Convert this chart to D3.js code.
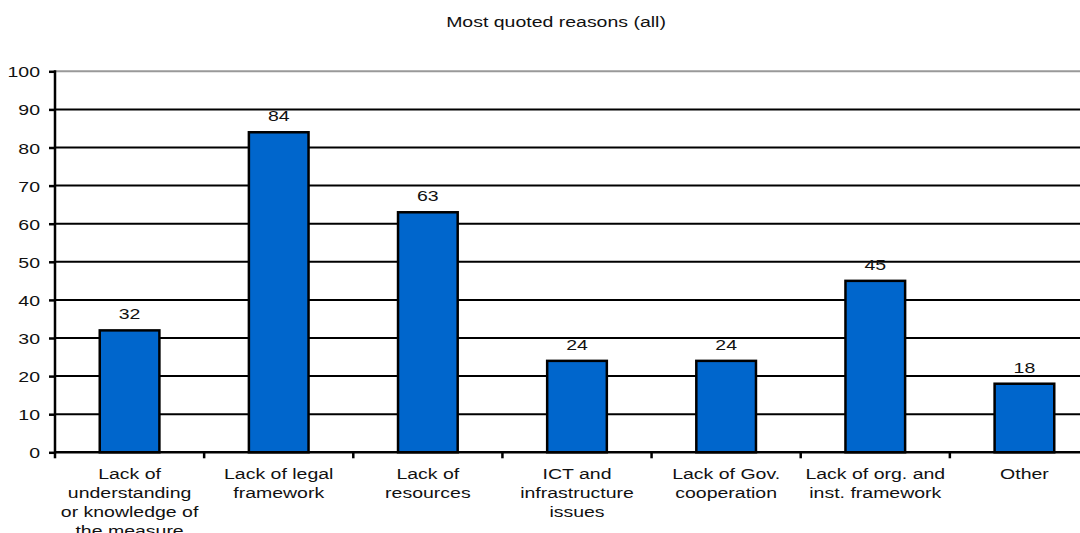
<!DOCTYPE html>
<html>
<head>
<meta charset="utf-8">
<script src="https://cdn.jsdelivr.net/npm/d3@7"></script>
<style>
  html, body { margin: 0; padding: 0; background: #fff; }
  svg { display: block; }
  text { font-family: "Liberation Sans", Arial, sans-serif; fill: #111; }
</style>
</head>
<body>
<svg id="chart" width="1080" height="533"></svg>
<script>
const title = "Most quoted reasons (all)";
const categories = [
  ["Lack of", "understanding", "or knowledge of", "the measure"],
  ["Lack of legal", "framework"],
  ["Lack of", "resources"],
  ["ICT and", "infrastructure", "issues"],
  ["Lack of Gov.", "cooperation"],
  ["Lack of org. and", "inst. framework"],
  ["Other"]
];
const values = [32, 84, 63, 24, 24, 45, 18];
const yTicks = [0, 10, 20, 30, 40, 50, 60, 70, 80, 90, 100];

const W = 1080, H = 533;
const plotLeft = 55, plotRight = 1099, plotTop = 71.3, plotBottom = 452.3;
const SX = 1.3; // horizontal text stretch seen in the reference
const fs = 15;

const svg = d3.select("#chart");
const keys = categories.map((c, i) => i);

const x = d3.scaleBand().domain(keys).range([plotLeft, plotRight]).padding(0);
const y = d3.scaleLinear().domain([0, 100]).range([plotBottom, plotTop]);
const step = x.step();

function stretchedText(sel, tx, ty, anchor) {
  return sel.append("text")
    .attr("transform", `translate(${tx},${ty}) scale(${SX},1)`)
    .attr("text-anchor", anchor)
    .style("font-size", fs + "px");
}

// title
stretchedText(svg, 556, 27, "middle").text(title);

// gridlines
svg.append("g").selectAll("line").data(yTicks.filter(t => t > 0)).join("line")
  .attr("x1", plotLeft).attr("x2", W)
  .attr("y1", d => y(d)).attr("y2", d => y(d))
  .attr("stroke", d => d === 100 ? "#999" : "#000")
  .attr("stroke-width", 2);

// y axis
const yAxis = d3.axisLeft(y).tickValues(yTicks).tickSize(6).tickFormat(d3.format("d"));
const gy = svg.append("g").attr("transform", `translate(${plotLeft},0)`).call(yAxis);
gy.select(".domain").remove();
gy.selectAll(".tick line").attr("stroke", "#000").attr("stroke-width", 2.5);
gy.selectAll(".tick text").remove();
gy.selectAll(".tick").each(function(d) {
  stretchedText(d3.select(this), -15, 5.5, "end").text(d);
});
svg.append("line")
  .attr("x1", plotLeft).attr("x2", plotLeft)
  .attr("y1", y(100) - 1).attr("y2", plotBottom + 1)
  .attr("stroke", "#000").attr("stroke-width", 2.5);

// bars
svg.append("g").selectAll("rect").data(values).join("rect")
  .attr("x", (d, i) => x(i) + step * 0.3)
  .attr("width", step * 0.4)
  .attr("y", d => y(d))
  .attr("height", d => y(0) - y(d))
  .attr("fill", "#0066CC")
  .attr("stroke", "#000")
  .attr("stroke-width", 2.5);

// value labels
values.forEach((v, i) => {
  stretchedText(svg, x(i) + step / 2, y(v) - 11, "middle").text(v);
});

// x axis
svg.append("line")
  .attr("x1", plotLeft).attr("x2", W)
  .attr("y1", plotBottom).attr("y2", plotBottom)
  .attr("stroke", "#000").attr("stroke-width", 2.5);
const tickPos = keys.map(k => x(k)).concat([x(keys.length - 1) + step]);
svg.append("g").selectAll("line").data(tickPos).join("line")
  .attr("x1", d => d).attr("x2", d => d)
  .attr("y1", plotBottom).attr("y2", plotBottom + 6)
  .attr("stroke", "#000").attr("stroke-width", 2.5);

// category labels
categories.forEach((lines, i) => {
  lines.forEach((ln, j) => {
    stretchedText(svg, x(i) + step / 2, 479 + j * 19, "middle").text(ln);
  });
});
</script>
</body>
</html>
